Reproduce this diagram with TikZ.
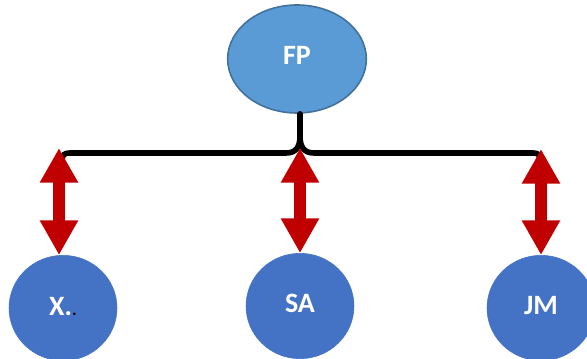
\documentclass[tikz,border=0pt]{standalone}
\usepackage{fontspec}
\setmainfont{Carlito}
\usepackage{tikz}
\usetikzlibrary{shapes.geometric,arrows.meta}

\definecolor{topblue}{HTML}{5B9BD5}
\definecolor{topline}{HTML}{41719C}
\definecolor{leafblue}{HTML}{4472C4}
\definecolor{linkred}{HTML}{C00000}

\tikzset{
  topnode/.style={ellipse,fill=topblue,draw=topline,line width=1.2pt,minimum width=104pt,minimum height=81pt,inner sep=0pt,text=white,font=\fontsize{21}{24}\selectfont\bfseries},
  leafnode/.style={ellipse,fill=leafblue,draw=leafblue,minimum width=81pt,minimum height=79pt,inner sep=0pt,text=white,font=\fontsize{21}{24}\selectfont\bfseries},
  brace/.style={line width=4.2pt,line cap=round,line join=round},
  link/.style={draw=linkred,line width=9pt,{Triangle[width=27pt,length=26pt,fill=linkred]}-{Triangle[width=27pt,length=26pt,fill=linkred]}}
}

\begin{document}
\begin{tikzpicture}[x=0.75pt,y=0.75pt,yscale=-1,xscale=1]
	\useasboundingbox (0,0) rectangle (587,359);
	
	% Top node
	\node[topnode] (fp) at (297,59) {\raisebox{5pt}{FP}};
	% Leaf nodes
	\node[leafnode] (x) at (63,308) {\raisebox{3pt}{X.{\color{black}\fontsize{13}{14}\selectfont.}}};
	\node[leafnode] (sa) at (300,306) {\raisebox{4pt}{SA}};
	\node[leafnode] (jm) at (541,308) {\raisebox{4pt}{JM}};
	
	% brace end points
	\coordinate (bx) at (59,148);
	\coordinate (bsa) at (300,148);
	\coordinate (bjm) at (541,149);
	
	% Brace
	\draw[brace] (62,161) .. controls (62,155) and (64,153) .. (70,153) -- (286,153) .. controls (296,153) and (300,147) .. (300,136) -- (bsa |- fp.south);
	\draw[brace] (300,136) .. controls (300,147) and (304,153) .. (314,153) -- (533,153) .. controls (538,153) and (540,155) .. (540,158);
	
	% Arrows
	\draw[link] (bx) -- (bx |- x.north);
	\draw[link] (bsa) -- (bsa |- sa.north);
	\draw[link] (bjm) -- (bjm |- jm.north);
	
\end{tikzpicture}
\end{document}
